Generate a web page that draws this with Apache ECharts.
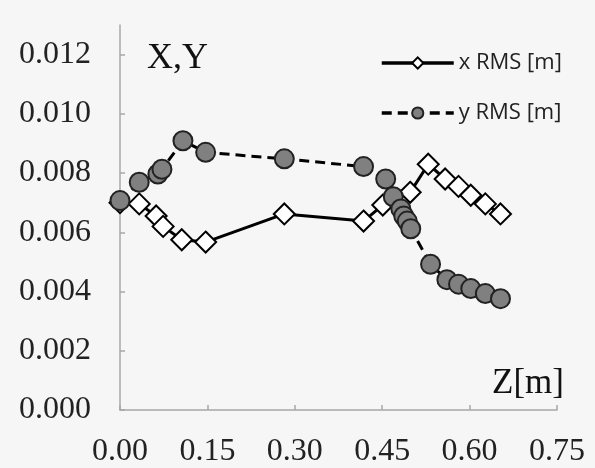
<!DOCTYPE html>
<html>
<head>
<meta charset="utf-8">
<script src="https://cdn.jsdelivr.net/npm/echarts@6/dist/echarts.min.js"></script>
<style>
  html, body { margin: 0; padding: 0; background: #f6f6f6; }
  #chart { width: 595px; height: 468px; }
</style>
</head>
<body>
<div id="chart"></div>
<script>
// Beam RMS size along the longitudinal coordinate Z
const xRmsZ = [0, 0.033, 0.062, 0.074, 0.106, 0.147, 0.282, 0.418, 0.451, 0.498, 0.529, 0.558, 0.581, 0.602, 0.627, 0.653];
const xRmsVal = [0.0070, 0.00696, 0.00655, 0.0062, 0.00575, 0.00567, 0.00662, 0.00638, 0.00692, 0.00735, 0.0083, 0.0078, 0.00755, 0.00725, 0.00696, 0.00662];

const yRmsZ = [0, 0.033, 0.065, 0.072, 0.108, 0.147, 0.282, 0.418, 0.456, 0.469, 0.482, 0.487, 0.493, 0.499, 0.533, 0.561, 0.581, 0.602, 0.627, 0.653];
const yRmsVal = [0.00707, 0.00769, 0.00797, 0.00813, 0.00909, 0.0087, 0.00848, 0.00822, 0.0078, 0.0072, 0.00679, 0.00655, 0.00638, 0.00612, 0.00492, 0.0044, 0.00425, 0.0041, 0.00393, 0.00376];

const xTicks = [0, 0.15, 0.30, 0.45, 0.60, 0.75];
const yTicks = [0, 0.002, 0.004, 0.006, 0.008, 0.010, 0.012];

const seriesNames = ['x RMS [m]', 'y RMS [m]'];

const pairs = (zs, vs) => zs.map((z, i) => [z, vs[i]]);

const serif = '"Liberation Serif", "DejaVu Serif", serif';
const axisColor = '#a8a8a8';

const chart = echarts.init(document.getElementById('chart'));
chart.setOption({
  backgroundColor: '#f6f6f6',
  animation: false,
  grid: { left: 120, right: 38, top: 25, bottom: 56 },
  xAxis: {
    type: 'value',
    min: 0,
    max: 0.75,
    interval: 0.15,
    splitLine: { show: false },
    axisLine: { lineStyle: { color: axisColor, width: 1.5 } },
    axisTick: { inside: true, length: 5, customValues: xTicks, lineStyle: { color: axisColor, width: 1.5 } },
    axisLabel: {
      customValues: xTicks,
      margin: 26,
      fontFamily: serif,
      fontSize: 32,
      color: '#222',
      formatter: v => v.toFixed(2)
    }
  },
  yAxis: {
    type: 'value',
    min: 0,
    max: 0.013,
    interval: 0.002,
    splitLine: { show: false },
    axisLine: { show: true, lineStyle: { color: axisColor, width: 1.5 } },
    axisTick: { show: true, inside: true, length: 5, customValues: yTicks, lineStyle: { color: axisColor, width: 1.5 } },
    axisLabel: {
      customValues: yTicks,
      margin: 29,
      fontFamily: serif,
      fontSize: 32,
      color: '#222',
      formatter: v => v.toFixed(3)
    }
  },
  legend: {
    orient: 'vertical',
    left: 380,
    top: 52,
    padding: 0,
    itemGap: 28,
    itemWidth: 72,
    itemHeight: 14,
    lineStyle: { width: 3.5 },
    textStyle: { fontFamily: '"Open Sans", Lato, sans-serif', fontSize: 22, color: '#222' },
    data: seriesNames
  },
  graphic: [
    {
      type: 'text',
      left: 147,
      top: 41,
      style: { text: 'X,Y', font: '36px ' + serif, fill: '#111' }
    },
    {
      type: 'text',
      left: 492,
      top: 366,
      style: { text: 'Z[m]', font: '35px ' + serif, fill: '#111' }
    }
  ],
  series: [
    {
      name: seriesNames[0],
      type: 'line',
      data: pairs(xRmsZ, xRmsVal),
      symbol: 'diamond',
      symbolSize: 21,
      lineStyle: { color: '#000', width: 3 },
      itemStyle: { color: '#fff', borderColor: '#000', borderWidth: 2 },
      z: 2
    },
    {
      name: seriesNames[1],
      type: 'line',
      data: pairs(yRmsZ, yRmsVal),
      symbol: 'circle',
      symbolSize: 19,
      lineStyle: { color: '#000', width: 3, type: [10, 6] },
      itemStyle: { color: '#808080', borderColor: '#222', borderWidth: 2 },
      z: 3
    }
  ]
});
</script>
</body>
</html>
